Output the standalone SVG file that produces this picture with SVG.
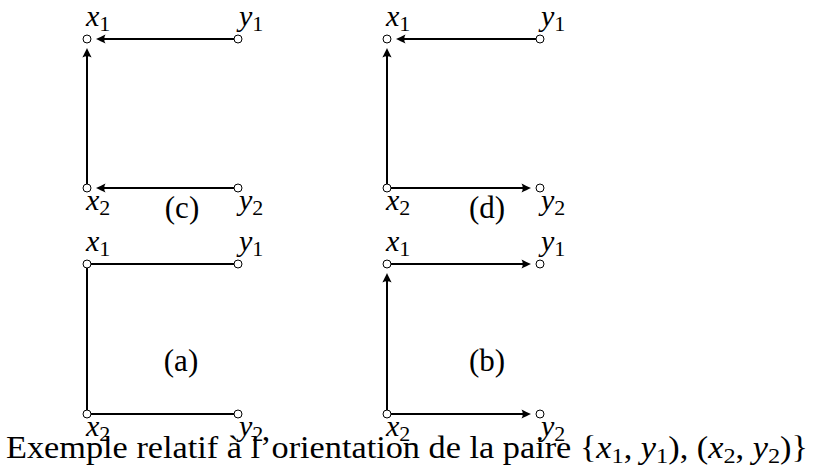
<svg xmlns="http://www.w3.org/2000/svg" width="815" height="471" viewBox="0 0 815 471">
<defs>
<style>
.bg{fill:#fff}
.ln{fill:none;stroke:#000;stroke-width:2}
.ar{marker-end:url(#ah)}
.pt{fill:#fff;stroke:#000;stroke-width:1}
text{font-family:"Liberation Serif","DejaVu Serif",serif;fill:#000}
.lbl{font-size:30px}
.it{font-style:italic}
.sub{font-size:22px;font-style:normal}
.cap{font-size:31px}
.csub{font-size:22px}
.pl{font-size:31px;text-anchor:middle}
</style>
<marker id="ah" markerUnits="userSpaceOnUse" markerWidth="20" markerHeight="20" refX="-4" refY="0" orient="auto" overflow="visible">
<path d="M0,0 C-3,-1.2 -6,-3 -9.5,-4.6 C-7.8,-1.5 -7.8,1.5 -9.5,4.6 C-6,3 -3,1.2 0,0 Z" fill="#000"/>
</marker>
</defs>
<rect class="bg" x="0" y="0" width="815" height="471"/>
<g id="connectors">
<!-- (c) -->
<path class="ln ar" d="M234,39 H100"/>
<path class="ln ar" d="M87,184 V52"/>
<path class="ln ar" d="M234,188 H100"/>
<!-- (d) -->
<path class="ln ar" d="M536,39 H400"/>
<path class="ln ar" d="M387,184 V52"/>
<path class="ln ar" d="M391,188 H527"/>
<!-- (a) -->
<path class="ln" d="M91,264 H234"/>
<path class="ln" d="M87,268 V410"/>
<path class="ln" d="M91,414 H234"/>
<!-- (b) -->
<path class="ln ar" d="M391,264 H527"/>
<path class="ln ar" d="M387,410 V277"/>
<path class="ln ar" d="M391,414 H527"/>
</g>
<g id="c-x1"><circle class="pt" cx="87" cy="39" r="4"/><text class="lbl" x="86" y="26"><tspan class="it">x</tspan><tspan class="sub" dy="5">1</tspan></text></g>
<g id="c-y1"><circle class="pt" cx="238" cy="39" r="4"/><text class="lbl" x="239" y="26"><tspan class="it">y</tspan><tspan class="sub" dy="5">1</tspan></text></g>
<g id="c-x2"><circle class="pt" cx="87" cy="188" r="4"/><text class="lbl" x="86" y="210"><tspan class="it">x</tspan><tspan class="sub" dy="5">2</tspan></text></g>
<g id="c-y2"><circle class="pt" cx="238" cy="188" r="4"/><text class="lbl" x="239" y="210"><tspan class="it">y</tspan><tspan class="sub" dy="5">2</tspan></text></g>
<g id="label-c"><text class="pl" x="182" y="218">(c)</text></g>

<g id="d-x1"><circle class="pt" cx="387" cy="39" r="4"/><text class="lbl" x="386" y="26"><tspan class="it">x</tspan><tspan class="sub" dy="5">1</tspan></text></g>
<g id="d-y1"><circle class="pt" cx="540" cy="39" r="4"/><text class="lbl" x="541" y="26"><tspan class="it">y</tspan><tspan class="sub" dy="5">1</tspan></text></g>
<g id="d-x2"><circle class="pt" cx="387" cy="188" r="4"/><text class="lbl" x="386" y="210"><tspan class="it">x</tspan><tspan class="sub" dy="5">2</tspan></text></g>
<g id="d-y2"><circle class="pt" cx="540" cy="188" r="4"/><text class="lbl" x="541" y="210"><tspan class="it">y</tspan><tspan class="sub" dy="5">2</tspan></text></g>
<g id="label-d"><text class="pl" x="487" y="218">(d)</text></g>

<g id="a-x1"><circle class="pt" cx="87" cy="264" r="4"/><text class="lbl" x="86" y="251"><tspan class="it">x</tspan><tspan class="sub" dy="5">1</tspan></text></g>
<g id="a-y1"><circle class="pt" cx="238" cy="264" r="4"/><text class="lbl" x="239" y="251"><tspan class="it">y</tspan><tspan class="sub" dy="5">1</tspan></text></g>
<g id="a-x2"><circle class="pt" cx="87" cy="414" r="4"/><text class="lbl" x="86" y="436"><tspan class="it">x</tspan><tspan class="sub" dy="5">2</tspan></text></g>
<g id="a-y2"><circle class="pt" cx="238" cy="414" r="4"/><text class="lbl" x="239" y="436"><tspan class="it">y</tspan><tspan class="sub" dy="5">2</tspan></text></g>
<g id="label-a"><text class="pl" x="181" y="371">(a)</text></g>

<g id="b-x1"><circle class="pt" cx="387" cy="264" r="4"/><text class="lbl" x="386" y="251"><tspan class="it">x</tspan><tspan class="sub" dy="5">1</tspan></text></g>
<g id="b-y1"><circle class="pt" cx="540" cy="264" r="4"/><text class="lbl" x="541" y="251"><tspan class="it">y</tspan><tspan class="sub" dy="5">1</tspan></text></g>
<g id="b-x2"><circle class="pt" cx="387" cy="414" r="4"/><text class="lbl" x="386" y="436"><tspan class="it">x</tspan><tspan class="sub" dy="5">2</tspan></text></g>
<g id="b-y2"><circle class="pt" cx="540" cy="414" r="4"/><text class="lbl" x="541" y="436"><tspan class="it">y</tspan><tspan class="sub" dy="5">2</tspan></text></g>
<g id="label-b"><text class="pl" x="487" y="371">(b)</text></g>

<g id="caption"><text class="cap" x="6" y="458" textLength="802" lengthAdjust="spacingAndGlyphs">Exemple relatif à l’orientation de la paire {<tspan class="it">x</tspan><tspan class="csub" dy="5">1</tspan><tspan dy="-5">, </tspan><tspan class="it">y</tspan><tspan class="csub" dy="5">1</tspan><tspan dy="-5">), (</tspan><tspan class="it">x</tspan><tspan class="csub" dy="5">2</tspan><tspan dy="-5">, </tspan><tspan class="it">y</tspan><tspan class="csub" dy="5">2</tspan><tspan dy="-5">)}</tspan></text></g>
</svg>
